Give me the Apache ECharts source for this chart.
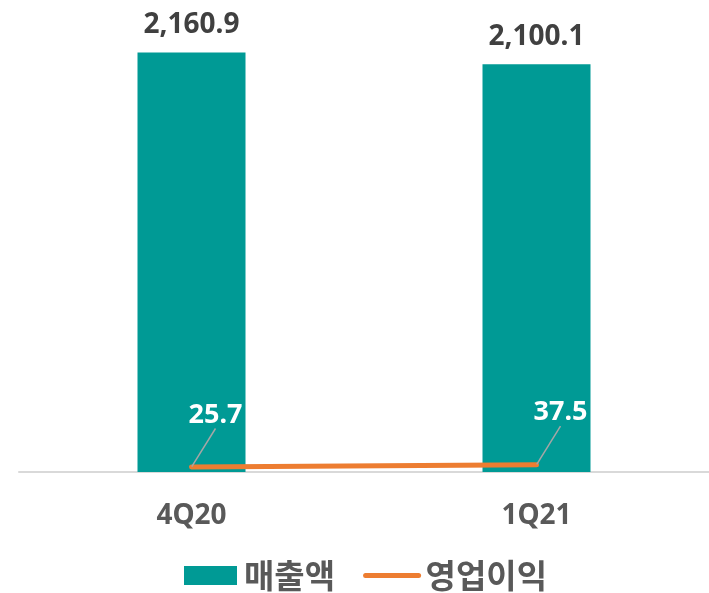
<!DOCTYPE html>
<html>
<head>
<meta charset="utf-8">
<script src="https://cdn.jsdelivr.net/npm/echarts@6/dist/echarts.min.js"></script>
<style>
  html, body { margin: 0; padding: 0; background: #fff; }
  #chart { width: 709px; height: 593px; }
</style>
</head>
<body>
<div id="chart"></div>
<script>
var quarters = ['4Q20', '1Q21'];
var sales = [2160.9, 2100.1];
var opProfit = [25.7, 37.5];

var fontFam = '"Noto Sans", "Noto Sans CJK KR", sans-serif';

var chart = echarts.init(document.getElementById('chart'));
chart.setOption({
    animation: false,
    textStyle: { fontFamily: fontFam },
    grid: { left: 19, right: 0, top: 6, bottom: 121 },
    legend: {
        bottom: -4,
        left: 179,
        itemGap: 28,
        itemWidth: 53,
        itemHeight: 19,
        textStyle: { fontSize: 33, fontWeight: 'bold', color: '#595959', fontFamily: '"Noto Sans CJK KR", sans-serif', padding: [0, 0, 0, 2] },
        data: [
            { name: '매출액', icon: 'rect' },
            { name: '영업이익', itemStyle: { opacity: 0 }, lineStyle: { width: 5, cap: 'round' } }
        ]
    },
    xAxis: {
        type: 'category',
        data: quarters,
        axisLine: { lineStyle: { color: '#D9D9D9', width: 2 } },
        axisTick: { show: false },
        axisLabel: { margin: 30, fontSize: 28, fontWeight: 'bold', color: '#595959' }
    },
    yAxis: {
        type: 'value',
        min: 0,
        max: 2400,
        show: false,
        splitLine: { show: false }
    },
    series: [
        {
            name: '매출액',
            type: 'bar',
            data: sales,
            barWidth: 108,
            itemStyle: { color: '#009A95' },
            label: {
                show: true,
                position: 'top',
                distance: 13,
                fontSize: 28,
                fontWeight: 'bold',
                color: '#404040',
                formatter: function (p) {
                    return p.value.toLocaleString('en-US', { minimumFractionDigits: 1, maximumFractionDigits: 1 });
                }
            }
        },
        {
            name: '영업이익',
            type: 'line',
            data: opProfit,
            symbol: 'circle',
            symbolSize: 1,
            itemStyle: { color: '#ED7D31' },
            lineStyle: { color: '#ED7D31', width: 5, cap: 'round' },
            label: {
                show: true,
                position: 'top',
                distance: 0,
                fontSize: 27,
                fontWeight: 'bold',
                color: '#ffffff',
                formatter: function (p) { return p.value.toFixed(1); }
            },
            labelLayout: { dx: 24, dy: -38 },
            labelLine: {
                show: true,
                showAbove: true,
                length2: 0,
                lineStyle: { color: '#A6A6A6', width: 1.5 }
            }
        }
    ]
});
</script>
</body>
</html>
